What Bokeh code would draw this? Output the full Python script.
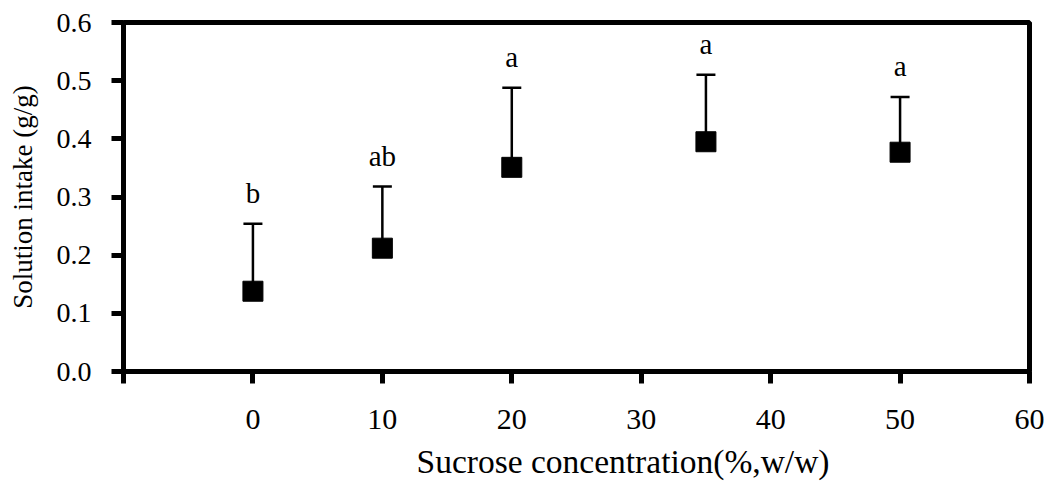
from bokeh.plotting import figure
from bokeh.models import Range1d, FixedTicker, Whisker, TeeHead, ColumnDataSource, NumeralTickFormatter, Title
from bokeh.core.properties import value
from bokeh.embed import file_html
from bokeh.resources import INLINE

# Data
sucrose = [0, 10, 20, 35, 50]
intake_mean = [0.138, 0.212, 0.351, 0.395, 0.377]
intake_upper = [0.254, 0.318, 0.488, 0.510, 0.472]
letters = ["b", "ab", "a", "a", "a"]
x_ticks = [-10, 0, 10, 20, 30, 40, 50, 60]
y_ticks = [0.0, 0.1, 0.2, 0.3, 0.4, 0.5, 0.6]

FONT = "Liberation Serif"

src = ColumnDataSource(dict(x=sucrose, mean=intake_mean, upper=intake_upper, label=letters))

p = figure(width=1049, height=488, output_backend="svg", toolbar_location=None,
           x_range=Range1d(-10, 60), y_range=Range1d(0, 0.6),
           min_border_left=123, min_border_right=20, min_border_top=22, min_border_bottom=116)

p.xgrid.visible = False
p.ygrid.visible = False
p.outline_line_color = "black"
p.outline_line_width = 5
p.background_fill_color = "white"
p.border_fill_color = "white"

# axes
p.xaxis.ticker = FixedTicker(ticks=x_ticks)
p.xaxis.major_label_overrides = {-10: ""}
p.yaxis.ticker = FixedTicker(ticks=y_ticks)
p.yaxis.formatter = NumeralTickFormatter(format="0.0")
for ax in (p.xaxis[0], p.yaxis[0]):
    ax.axis_line_width = 5
    ax.axis_line_color = "black"
    ax.major_tick_line_width = 5
    ax.major_tick_line_color = "black"
    ax.major_tick_in = 0
    ax.major_tick_out = 12
    ax.minor_tick_line_color = None
    ax.major_label_text_font = FONT
    ax.major_label_text_color = "black"
    ax.axis_label_text_font = FONT
    ax.axis_label_text_font_style = "normal"
    ax.axis_label_text_color = "black"
p.xaxis.major_label_text_font_size = "30px"
p.yaxis.major_label_text_font_size = "28px"
p.xaxis.major_label_standoff = 26
p.yaxis.major_label_standoff = 20
p.yaxis.axis_label = "Solution intake (g/g)"
p.yaxis.axis_label_text_font_size = "27px"
p.yaxis.axis_label_standoff = 16

# x-axis title, shifted to the right as in the reference
xt = Title(text="Sucrose concentration(%,w/w)", align="left", offset=293,
           text_font=FONT, text_font_size="33.5px", text_font_style="normal",
           text_color="black", standoff=18)
p.add_layout(xt, "below")

# error bars (upper only)
w = Whisker(source=src, base="x", upper="upper", lower="mean", dimension="height",
            line_color="black", line_width=2.5,
            upper_head=TeeHead(size=19, line_color="black", line_width=2.5),
            lower_head=None)
p.add_layout(w)

p.scatter("x", "mean", source=src, marker="square", size=20,
          fill_color="black", line_color="black")

p.text("x", "upper", text="label", source=src, text_font=value(FONT),
       text_font_size="29px", text_align="center", text_baseline="alphabetic",
       y_offset=-31, text_color="black")

open("out.html", "w").write(file_html(p, INLINE))
